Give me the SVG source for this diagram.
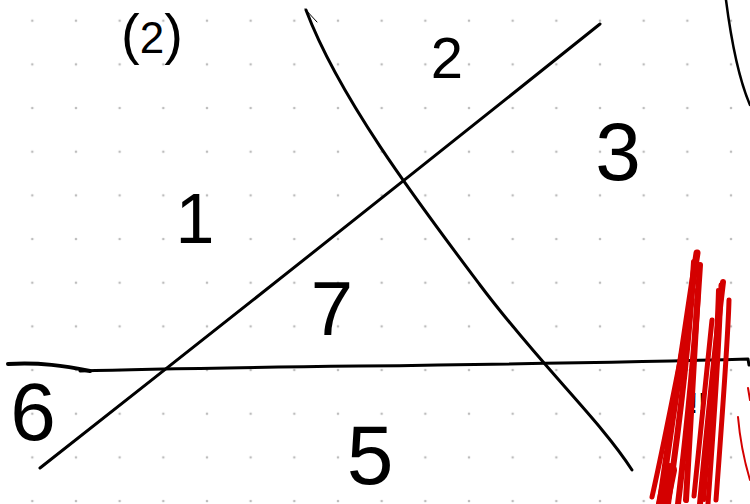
<svg xmlns="http://www.w3.org/2000/svg" width="750" height="504" viewBox="0 0 750 504">
<defs>
<pattern id="dots" x="32.3" y="20.7" width="43.67" height="43.67" patternUnits="userSpaceOnUse">
<circle cx="0" cy="0" r="1.3" fill="#bdbdbd"/><circle cx="43.67" cy="0" r="1.3" fill="#bdbdbd"/><circle cx="0" cy="43.67" r="1.3" fill="#bdbdbd"/><circle cx="43.67" cy="43.67" r="1.3" fill="#bdbdbd"/>
</pattern>
<style>
.ln{fill:none;stroke:#000;stroke-width:3;stroke-linecap:round;stroke-linejoin:round}
.thin{fill:none;stroke:#000;stroke-width:1;stroke-linecap:round}
.red{fill:none;stroke:#d40000;stroke-linecap:round;stroke-linejoin:round}
.hw{font-family:"Liberation Sans","DejaVu Sans",sans-serif;fill:#000;text-anchor:middle}
</style>
</defs>
<rect width="750" height="504" fill="#fff"/>
<rect width="750" height="504" fill="url(#dots)"/>
<g id="lines">
<path class="ln" d="M40,468 Q330,240 600,24"/>
<path class="ln" d="M306,10 C340,100 420,205 480,285 S600,420 632,470"/>
<path class="thin" d="M305,9 L317,22"/>
<path class="ln" d="M80,371 C250,366 500,366 748,359 l1,6"/>
<path class="ln" style="stroke-width:4" d="M8,364 C40,362 65,366 90,371"/>
<path class="ln" style="stroke-width:2.5" d="M726,0 Q735,70 750,105"/>
</g>
<g id="labels">
<text class="hw" x="195" y="243" font-size="70">1</text>
<text class="hw" x="447" y="78" font-size="58">2</text>
<text class="hw" x="618" y="180" font-size="82">3</text>
<text class="hw" x="332" y="335" font-size="76">7</text>
<text class="hw" x="370" y="484" font-size="84">5</text>
<text class="hw" x="33" y="440" font-size="82">6</text>
<text class="hw" x="152" y="53" font-size="56">(<tspan font-size="44">2</tspan>)</text>
<text class="hw" x="698" y="413" font-size="30">!!</text>
</g>
<g id="scribble">
<path class="red" stroke-width="7" d="M660,504 C672,420 685,330 697,253"/>
<path class="red" stroke-width="6" d="M668,504 C680,420 690,330 694,262"/>
<path class="red" stroke-width="6" d="M678,504 C688,420 696,330 700,265"/>
<path class="red" stroke-width="14" d="M663,504 L670,470"/>
<path class="red" stroke-width="5" d="M652,497 C665,440 680,360 692,300"/>
<path class="red" stroke-width="6" d="M686,500 C690,430 694,360 698,290"/>
<path class="red" stroke-width="6" d="M700,504 C708,420 716,340 723,282"/>
<path class="red" stroke-width="5" d="M708,504 C714,420 720,340 721,285"/>
<path class="red" stroke-width="5" d="M716,500 C722,420 728,340 729,300"/>
<path class="red" stroke-width="5" d="M694,496 C700,440 706,380 712,320"/>
<path class="red" stroke-width="4" d="M704,500 C710,430 716,360 718,290"/>
<path class="red" stroke-width="2" d="M738,417 C740,440 744,460 750,480"/>
<path class="red" stroke-width="2" d="M748,388 L750,400"/>
</g>
</svg>
